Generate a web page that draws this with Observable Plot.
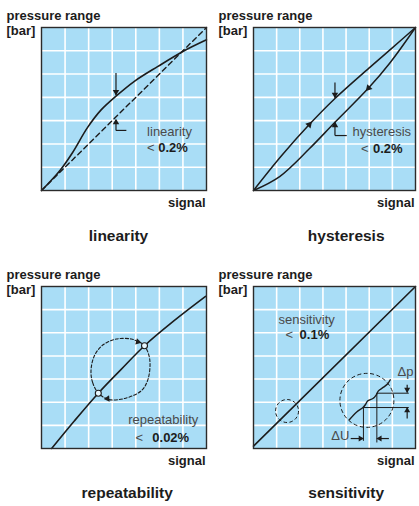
<!DOCTYPE html>
<html><head><meta charset="utf-8">
<script src="https://cdn.jsdelivr.net/npm/d3@7"></script>
<script src="https://cdn.jsdelivr.net/npm/@observablehq/plot@0.6"></script>
<style>
body{margin:0;background:#fff;}
#root{position:relative;width:419px;height:506px;overflow:hidden;background:#fff;}
.panel{position:absolute;}
.panel svg{overflow:visible;}
</style></head><body><div id="root"></div>
<script>
// ---- data (chart units: 7 x 7 grid cells) ----
const gridTicks = [1, 2, 3, 4, 5, 6];
const axisTitle = ["pressure range", "[bar]"];
const axisSignal = ["signal"];
const captions = ["linearity", "hysteresis", "repeatability", "sensitivity"];
const specNames = ["linearity", "hysteresis", "repeatability", "sensitivity"];
const specValues = ["0.2%", "0.2%", "0.02%", "0.1%"];
const deltaLabels = ["Δp", "ΔU"];

const linearIdeal = [[0, 0], [7, 7]];
const linearCurve = [[0, 0], [0.4, 0.42], [0.8, 0.88], [1.3, 1.6], [1.95, 2.7], [2.52, 3.45], [3.16, 4.05], [3.94, 4.69], [4.94, 5.33], [6.0, 5.97], [7.0, 6.47]];

const hystUp = [[0, 0], [1.2, 1.48], [2.41, 2.83], [3.52, 3.95], [5.04, 5.3], [5.91, 6.05], [7, 7]];
const hystDown = [[0, 0], [1.13, 0.6], [2.4, 1.78], [3.52, 2.93], [4.97, 4.4], [5.91, 5.5], [7, 7]];

const repLine = [[0.43, 0], [1.4, 1.2], [2.41, 2.39], [3.38, 3.42], [4.37, 4.44], [5.6, 5.5], [6.96, 6.57]];
const repLoop = [[2.41, 2.39], [2.17, 2.85], [2.1, 3.36], [2.24, 4.0], [2.6, 4.47], [3.17, 4.73], [3.81, 4.73], [4.09, 4.62], [4.37, 4.44], [4.59, 3.86], [4.52, 3.0], [4.23, 2.49], [3.52, 2.16], [2.95, 2.1], [2.7, 2.18]];
const repPoints = [[2.41, 2.39], [4.37, 4.44]];

const sensLine = [[0, 0.1], [7, 7]];
const sensSmall = [[1.45, 1.62]];
const sensLarge = [[4.9, 2.08]];
const sensStep = [[4.14, 1.24], [4.46, 1.58], [4.72, 1.76], [4.84, 1.9], [4.93, 2.05], [5.16, 2.16], [5.3, 2.31], [5.39, 2.48], [5.62, 2.65], [5.8, 2.8], [5.91, 2.97]];

// ---- styling ----
const BLUE = "#a9ddf6", INK = "#1c1c1c", GRAY = "#4a4a4a";
const FONT = '"Liberation Sans", Arial, Helvetica, sans-serif';

function label(text, opts) {
  return Plot.text([text], {text: d => d, lineAnchor: "bottom", fill: INK, fontWeight: "bold", fontSize: 13, ...opts});
}
function note(text, x, y, bold = false) {
  return Plot.text([text], {text: d => d, x, y, textAnchor: "start", lineAnchor: "bottom",
    fill: bold ? INK : GRAY, fontWeight: bold ? "bold" : "normal", fontSize: 13});
}
function seg(x1, y1, x2, y2, w = 1.2) {
  return Plot.link([0], {x1, y1, x2, y2, stroke: INK, strokeWidth: w});
}
function head(x, y, rotate, r = 2.4) {
  return Plot.dot([0], {x, y, symbol: "triangle", r, fill: INK, stroke: "none", rotate});
}

function panel({left, top, height, mL, mR, mB, capDx, capDy, caption, marks}) {
  const width = mL + mR + (mL === 41 ? 165 : 162);
  const svg = Plot.plot({
    width, height,
    marginLeft: mL, marginRight: mR, marginTop: 27, marginBottom: mB,
    x: {domain: [0, 7], axis: null},
    y: {domain: [0, 7], axis: null},
    style: {fontFamily: FONT, background: "transparent", overflow: "visible"},
    marks: [
      Plot.frame({fill: BLUE, stroke: "none"}),
      Plot.ruleX(gridTicks, {stroke: "#fff", strokeWidth: 1.6}),
      Plot.ruleY(gridTicks, {stroke: "#fff", strokeWidth: 1.6}),
      ...marks,
      Plot.frame({stroke: "#2b2b2b", strokeWidth: 1.4}),
      label(axisTitle[0], {frameAnchor: "top-left", dx: -35, dy: -8, textAnchor: "start"}),
      label(axisTitle[1], {frameAnchor: "top-left", dx: -35, dy: 7.5, textAnchor: "start"}),
      label(axisSignal[0], {frameAnchor: "bottom-right", dx: -1, dy: 16, textAnchor: "end"}),
      label(caption, {frameAnchor: "bottom-left", dx: capDx, dy: capDy, textAnchor: "middle", fontSize: 15.5})
    ]
  });
  const div = document.createElement("div");
  div.className = "panel";
  div.style.left = left + "px";
  div.style.top = top + "px";
  div.appendChild(svg);
  document.getElementById("root").appendChild(div);
}

// linearity
panel({left: 0, top: 0, height: 253, mL: 41, mR: 3, mB: 63, capDx: 77, capDy: 50, caption: captions[0], marks: [
  Plot.line(linearIdeal, {stroke: INK, strokeWidth: 1.4, strokeDasharray: "5,3.5"}),
  Plot.line(linearCurve, {curve: "catmull-rom", stroke: INK, strokeWidth: 1.6}),
  seg(3.16, 5.05, 3.16, 4.1), head(3.16, 4.24, 180),
  seg(3.16, 2.58, 3.16, 3.03), head(3.16, 2.92, 0),
  seg(3.16, 2.58, 3.6, 2.58),
  note(specNames[0], 4.48, 2.32),
  note("<", 4.48, 1.65),
  note(specValues[0], 4.95, 1.65, true)
]});

// hysteresis
panel({left: 209, top: 0, height: 253, mL: 44, mR: 4, mB: 63, capDx: 92.7, capDy: 50, caption: captions[1], marks: [
  Plot.line(hystUp, {curve: "catmull-rom", stroke: INK, strokeWidth: 1.5}),
  Plot.line(hystDown, {curve: "catmull-rom", stroke: INK, strokeWidth: 1.5}),
  head(2.41, 2.83, 42, 2.6), head(4.97, 4.4, 222, 2.6),
  seg(3.52, 4.64, 3.52, 3.98), head(3.52, 4.12, 180),
  seg(3.52, 2.36, 3.52, 2.93), head(3.52, 2.8, 0),
  seg(3.52, 2.36, 4.03, 2.36),
  note(specNames[1], 4.28, 2.36),
  note("<", 4.65, 1.63),
  note(specValues[1], 5.16, 1.63, true)
]});

// repeatability
panel({left: 0, top: 259, height: 247, mL: 41, mR: 3, mB: 58, capDx: 85.7, capDy: 49, caption: captions[2], marks: [
  Plot.line(repLine, {curve: "catmull-rom", stroke: INK, strokeWidth: 1.6}),
  Plot.line(repLoop, {curve: "catmull-rom-closed", stroke: INK, strokeWidth: 1.1, strokeDasharray: "3,2"}),
  head(4.09, 4.61, 105), head(2.8, 2.15, 265),
  Plot.dot(repPoints, {r: 3, fill: "#e6f6fd", stroke: INK, strokeWidth: 1.1}),
  note(specNames[2], 3.68, 1.08),
  note("<", 3.99, 0.3),
  note(specValues[2], 4.7, 0.3, true)
]});

// sensitivity
panel({left: 209, top: 259, height: 247, mL: 44, mR: 4, mB: 58, capDx: 92.7, capDy: 49, caption: captions[3], marks: [
  Plot.line(sensLine, {stroke: INK, strokeWidth: 1.6}),
  Plot.dot(sensSmall, {r: 11.5, fill: "none", stroke: INK, strokeWidth: 1, strokeDasharray: "3.5,2.5"}),
  Plot.dot(sensLarge, {r: 27, fill: "none", stroke: INK, strokeWidth: 1, strokeDasharray: "4,2.5"}),
  Plot.line(sensStep, {curve: "catmull-rom", stroke: INK, strokeWidth: 1.4}),
  seg(5.33, 2.39, 6.71, 2.39, 1), seg(4.75, 1.77, 6.71, 1.77, 1),
  seg(4.75, 1.77, 4.75, 0.33, 1), seg(5.33, 2.39, 5.33, 0.26, 1),
  seg(6.64, 2.75, 6.64, 2.42), head(6.64, 2.55, 180, 2.2),
  seg(6.64, 1.3, 6.64, 1.77), head(6.64, 1.64, 0, 2.2),
  seg(4.2, 0.43, 4.75, 0.43), head(4.62, 0.43, 90, 2.2),
  seg(5.85, 0.43, 5.33, 0.43), head(5.46, 0.43, 270, 2.2),
  note(specNames[3], 1.08, 5.4),
  note("<", 1.38, 4.75),
  note(specValues[3], 1.99, 4.75, true),
  note(deltaLabels[0], 6.22, 3.12),
  note(deltaLabels[1], 3.36, 0.35)
]});
</script></body></html>
